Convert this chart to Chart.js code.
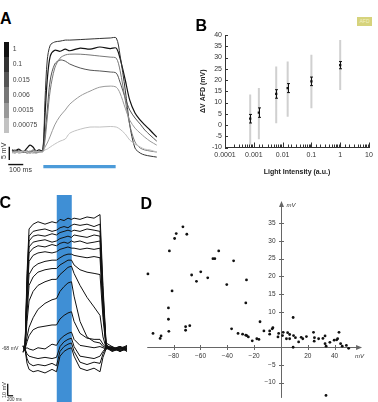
<!doctype html>
<html lang="en">
<head>
	<meta charset="utf-8">
	<title>AFD light responses</title>
	<script src="https://cdn.jsdelivr.net/npm/chart.js@4.4.1/dist/chart.umd.min.js"></script>
	<style>
		body { margin: 0; width: 378px; height: 402px; position: relative; overflow: hidden; background: #fff; font-family: "Liberation Sans", Arial, sans-serif; color: #333; }
		canvas { position: absolute; }
		.txt { position: absolute; white-space: nowrap; line-height: 1; }
		.panel { font-weight: bold; font-size: 16px; color: #000; }
		.rot { transform: rotate(-90deg); transform-origin: left top; }
		.legBlock { position: absolute; left: 4px; width: 5.3px; }
		.legLabel { position: absolute; left: 12.7px; font-size: 6.8px; line-height: 1; color: #444; }
		#afd { position: absolute; left: 357px; top: 17px; width: 15px; height: 9px; background: #d6d37c; color: #f3f1c4; font-size: 5px; line-height: 9px; text-align: center; }
	</style>
</head>

<body>
	<canvas id="chartA" width="162" height="142" style="left:0;top:30px"></canvas>
	<canvas id="chartB" width="188" height="195" style="left:190px;top:0"></canvas>
	<canvas id="chartC" width="140" height="207" style="left:0;top:195px"></canvas>
	<canvas id="chartD" width="238" height="207" style="left:140px;top:195px"></canvas>

	<div class="txt panel" style="left:0;top:11.3px">A</div>
	<div class="txt panel" style="left:195.5px;top:18px">B</div>
	<div class="txt panel" style="left:-0.5px;top:194.7px">C</div>
	<div class="txt panel" style="left:140.5px;top:196.3px">D</div>
	<div id="afd">AFD</div>
	<div id="legendA"></div>

	<div class="txt rot" style="left:-0.5px;top:158.5px;font-size:7px">5 mV</div>
	<div class="txt" style="left:9px;top:166px;font-size:7px">100 ms</div>
	<div class="txt" style="left:1.7px;top:346.4px;font-size:5.2px">-68 mV</div>
	<div class="txt rot" style="left:1.5px;top:398px;font-size:5.5px">10 mV</div>
	<div class="txt" style="left:7px;top:397.8px;font-size:4.5px">200 ms</div>

	<script>
		// ---- panel A: responses to light steps (time in ms, voltage in mV from rest)
		var aIntensities = ['1', '0.1', '0.015', '0.006', '0.0015', '0.00075'];
		var aColors = ['#111111', '#333333', '#555555', '#777777', '#999999', '#c2c2c2'];
		var aTime = [0, 20, 45, 75, 100, 120, 140, 160, 180, 205, 220, 235, 255, 285, 320, 355, 385, 455, 520, 585, 655, 695, 720, 755, 785, 820, 855, 885, 920, 965];
		var aResp1 = [0.8, 0.4, 1.1, 0, 1.5, 2.6, 1.9, 0.4, 0.8, 0.4, 13.9, 27.1, 36.1, 38.3, 37.9, 38.7, 38.1, 39.1, 38.7, 39.5, 38.9, 39.1, 35.3, 27.1, 19.5, 14.7, 12, 10.2, 8.3, 5.6];
		var aResp01 = [0.4, 0, 0.8, 0, 0.4, -0.4, 0.4, 0, 0.4, 0.8, 19.5, 34.6, 40.2, 41.4, 41.7, 42.1, 42.1, 42.3, 42.5, 42.7, 42.9, 42.9, 36.5, 23.3, 10.2, 1.5, -0.4, -1.1, -1.5, -1.9];
		var aResp0015 = [0.4, 0.8, 0, 0.4, -0.4, 0, 0.8, 0.4, 0, 0.4, 6.4, 15.8, 27.1, 33.1, 34.6, 34.2, 33.1, 31.6, 30.8, 30.5, 30.1, 29.7, 26.3, 20.3, 15.8, 12.8, 10.5, 8.3, 6.4, 4.1];
		var aResp0006 = [0, -0.4, 0.4, 0, 0, 0.4, 0, -0.4, 0, 0.4, 4.5, 12.8, 23.3, 31.6, 35.3, 36.5, 36.8, 36.8, 36.5, 36.1, 35.7, 35.3, 30.8, 19.5, 10.2, 3.8, 1.5, 0.8, 0.4, 0];
		var aResp00015 = [0, 0.4, -0.4, 0, 0.4, 0, -0.4, 0, 0.4, 0, 1.9, 3.4, 6, 10.2, 13.5, 15.8, 18, 21.1, 22.9, 24.4, 24.8, 24.4, 22.2, 16.5, 12, 9, 7.1, 5.6, 4.1, 2.6];
		var aResp000075 = [-0.4, 0, 0, 0.4, 0, -0.4, 0, 0.4, 0, 0, 0.8, 1.1, 1.9, 3, 4.1, 4.9, 7.1, 8.6, 9.4, 9.4, 9.6, 9.4, 8.6, 6.8, 4.5, 3, 1.9, 1.1, 0.8, 0];
		var aStim = [209, 691];

		// ---- panel B: light intensity vs depolarisation
		var bIntensity = [0.00075, 0.0015, 0.006, 0.015, 0.1, 1];
		var bMean = [2.8, 5.5, 13.8, 16.4, 19.4, 26.6];
		var bSem = [1.9, 2.1, 1.9, 2.0, 1.9, 1.6];
		var bRangeLow = [-8.8, -6.3, 0.8, 3.7, 7.4, 15.6];
		var bRangeHigh = [13.6, 16.5, 26.0, 28.2, 31.2, 37.8];
		var bTickLabels = ['0.0001', '0.001', '0.01', '0.1', '1', '10'];

		// ---- panel C: current steps (time in ms, membrane potential in mV)
		var cTime = [-70, 0, 75, 150, 300, 480, 740, 1000, 1165, 1295, 1445, 1590, 1720, 1815, 2035, 2295, 2555, 2775, 2885, 3000, 3220, 3515, 3775];
		var cSweep1 = [-66, -68, -5, 32, 36, 38, 36, 38, 37, 40, 39, 41, 40, 41, 40, 42, 41, 44, -15, -63, -66, -70, -67];
		var cSweep2 = [-70, -68, -10, 26, 30, 31, 32, 30, 31, 33, 34, 33, 35, 36, 35, 36, 34, 36, -20, -64, -69, -66, -68];
		var cSweep3 = [-65, -68, -15, 22, 26, 27, 26, 28, 27, 29, 30, 31, 30, 31, 30, 32, 31, 30, -25, -65, -67, -70, -66];
		var cSweep4 = [-71, -68, -18, 17, 21, 22, 23, 21, 22, 24, 25, 26, 25, 27, 26, 25, 27, 26, -28, -65, -70, -67, -69];
		var cSweep5 = [-67, -68, -22, 12, 16, 18, 17, 19, 18, 20, 21, 20, 22, 21, 22, 20, 21, 22, -30, -66, -68, -66, -70];
		var cSweep6 = [-69, -68, -25, 5, 10, 12, 13, 12, 13, 15, 16, 17, 16, 16, 15, 16, 15, 16, -33, -66, -69, -68, -65];
		var cSweep7 = [-66, -68, -30, -6, 0, 3, 5, 6, 6, 8, 10, 11, 11, 10, 9, 8, 9, 8, -36, -66, -67, -70, -68];
		var cSweep8 = [-70, -68, -38, -15, -8, -4, -2, -1, -1, 2, 4, 6, 6, 2, -2, -4, -5, -6, -42, -67, -69, -67, -66];
		var cSweep9 = [-67, -68, -45, -28, -20, -15, -12, -10, -10, -6, -3, 0, 1, -5, -15, -25, -33, -40, -58, -67, -66, -69, -68];
		var cSweep10 = [-69, -68, -58, -50, -42, -35, -30, -27, -26, -20, -16, -13, -12, -24, -45, -58, -62, -63, -66, -67, -70, -68, -67];
		var cSweep11 = [-66, -68, -62, -57, -52, -50, -49, -48, -48, -43, -40, -38, -37, -45, -55, -59, -60, -60, -64, -67, -68, -66, -69];
		var cSweep12 = [-70, -68, -67, -68, -69, -67, -68, -64, -65, -60, -57, -55, -54, -60, -65, -66, -67, -66, -67, -68, -67, -69, -68];
		var cSweep13 = [-67, -68, -72, -74, -75, -76, -75, -76, -75, -66, -62, -60, -59, -66, -74, -75, -76, -74, -70, -67, -68, -67, -70];
		var cSweep14 = [-68, -68, -76, -80, -82, -81, -82, -80, -82, -70, -66, -64, -63, -70, -79, -81, -79, -80, -72, -67, -69, -68, -66];
		var cSweep15 = [-66, -68, -80, -85, -87, -86, -88, -85, -87, -74, -70, -68, -67, -74, -84, -86, -84, -87, -75, -68, -67, -69, -68];
		var cStim = [1175, 1730];

		// ---- panel D: scatter (mV vs mV)
		var dX = [-99.2, -95.4, -90.1, -89.4, -83.6, -83.9, -83.9, -81.2, -83.2, -79.3, -78.1, -73.1, -70.2, -71.1, -71.1, -68.0, -66.6, -63.0, -59.8, -54.6,
			-50.7, -49.3, -46.4, -40.4, -35.3, -25.7, -26.2, -36.8, -32.0, -28.6, -26.2, -25.5, -24.3, -21.4, -18.0, -16.4, -15.6, -12.7, -8.4, -8.4,
			-6.5, -6.0, -2.2, -1.7, 1.2, 1.7, 4.1, 5.0, 6.5, 6.5, 9.1, 9.1, 9.4, 10.8, 13.2, 15.1, 16.3, 19.0, 24.3, 24.8,
			25.0, 28.1, 31.3, 32.9, 32.9, 33.7, 36.5, 39.7, 41.6, 42.3, 43.3, 44.5, 45.7, 48.8, 50.5, 33.6];
		var dY = [20.7, 3.9, 2.5, 3.2, 4.5, 7.9, 11.1, 15.9, 27.2, 30.7, 32.1, 34.0, 31.9, 5.8, 4.8, 6.1, 20.4, 18.6, 21.3, 19.6,
			25.0, 25.0, 27.2, 17.7, 24.4, 19.0, 12.5, 5.2, 3.9, 3.7, 3.4, 3.3, 2.9, 1.8, 2.4, 2.2, 7.2, 4.6, 4.6, 3.7,
			5.2, 5.5, 2.9, 3.9, 3.3, 4.2, 2.4, 4.1, 3.6, 2.4, 8.4, 0.0, 3.3, 2.7, 1.5, 2.8, 2.4, 3.0, 4.2, 1.7,
			2.7, 2.4, 2.5, 3.2, 1.0, 0.3, 1.4, 2.0, 2.1, 2.4, 4.2, 1.0, 0.3, 0.5, -0.3, -13.6];
		var dXTicks = [-80, -60, -40, -20, 20, 40];
		var dXTickLabels = ['\u221280', '\u221260', '\u221240', '\u221220', '20', '40'];
		var dYTicks = [35, 30, 25, 20, 15, 10, -5, -10];
		var dYTickLabels = ['35', '30', '25', '20', '15', '10', '\u22125', '\u221210'];
		var dAxisX = [-99.7, 60.5];
		var dAxisY = [-14.3, 41.3];

		var fontFamily = '"Liberation Sans", Arial, sans-serif';
		Chart.defaults.font.family = fontFamily;
		Chart.defaults.color = '#333';

		function toPoints(xs, ys)
		{
			return xs.map(function(x, i) { return {x: x, y: ys[i]}; });
		}

		function traceSet(data, color, width)
		{
			return {data: data, borderColor: color, borderWidth: width, pointRadius: 0, fill: false};
		}

		function bareOptions(xMin, xMax, yMin, yMax, tension)
		{
			return {
				responsive: false,
				animation: false,
				devicePixelRatio: 1,
				layout: {padding: 0},
				elements: {line: {tension: tension}},
				plugins: {legend: {display: false}, tooltip: {enabled: false}},
				scales: {
					x: {type: 'linear', display: false, min: xMin, max: xMax},
					y: {type: 'linear', display: false, min: yMin, max: yMax}
				}
			};
		}

		// legend for panel A
		var legendA = document.getElementById('legendA');
		aIntensities.forEach(function(label, i)
		{
			var block = document.createElement('div');
			block.className = 'legBlock';
			block.style.top = (41.7 + i * 15.25) + 'px';
			block.style.height = '15.3px';
			block.style.background = aColors[i];
			legendA.appendChild(block);

			var text = document.createElement('div');
			text.className = 'legLabel';
			text.style.top = (41.7 + i * 15.25 + 4.5) + 'px';
			text.textContent = label;
			legendA.appendChild(text);
		});

		// ---- chart A
		var aResponses = [aResp000075, aResp00015, aResp0006, aResp0015, aResp01, aResp1];
		var aDatasets = [];
		aResponses.forEach(function(resp, i)
		{
			aDatasets.push(traceSet(toPoints(aTime, resp), aColors[5 - i], i === 5 ? 1.2 : 1));
		});
		aDatasets.push(traceSet([{x: aStim[0], y: -5.5}, {x: aStim[1], y: -5.5}], '#4c9bd9', 3.2));
		aDatasets.push(traceSet([{x: -18, y: -3}, {x: -18, y: 2}], '#111', 1.4));
		aDatasets.push(traceSet([{x: -25, y: -4.7}, {x: 75, y: -4.7}], '#111', 1.4));

		new Chart(document.getElementById('chartA'), {
			type: 'line',
			data: {datasets: aDatasets},
			options: bareOptions(-80, 1000, -7.5, 45.9, 0.3)
		});

		// ---- chart B
		function isDecade(v)
		{
			var e = Math.log10(v);
			return Math.abs(e - Math.round(e)) < 1e-6;
		}

		var bErrorBars = {
			id: 'bErrorBars',
			beforeDatasetsDraw: function(chart)
			{
				var ctx = chart.ctx, xs = chart.scales.x, ys = chart.scales.y;
				ctx.save();
				ctx.lineWidth = 2;
				ctx.strokeStyle = '#d0d0d0';
				ctx.beginPath();
				bIntensity.forEach(function(v, i)
				{
					var px = xs.getPixelForValue(v);
					ctx.moveTo(px, ys.getPixelForValue(bRangeLow[i]));
					ctx.lineTo(px, ys.getPixelForValue(bRangeHigh[i]));
				});
				ctx.stroke();

				ctx.lineWidth = 1;
				ctx.strokeStyle = '#111';
				ctx.beginPath();
				bIntensity.forEach(function(v, i)
				{
					var px = Math.round(xs.getPixelForValue(v)) + 0.5;
					var lo = ys.getPixelForValue(bMean[i] - bSem[i]);
					var hi = ys.getPixelForValue(bMean[i] + bSem[i]);
					ctx.moveTo(px, lo); ctx.lineTo(px, hi);
					ctx.moveTo(px - 1.5, lo); ctx.lineTo(px + 1.5, lo);
					ctx.moveTo(px - 1.5, hi); ctx.lineTo(px + 1.5, hi);
				});
				ctx.stroke();
				ctx.restore();
			},
			afterDraw: function(chart)
			{
				// tick marks pointing into the plot
				var ctx = chart.ctx, area = chart.chartArea, xs = chart.scales.x, ys = chart.scales.y;
				ctx.save();
				ctx.strokeStyle = '#333';
				ctx.lineWidth = 1;
				ctx.beginPath();
				xs.ticks.forEach(function(t)
				{
					var px = Math.round(xs.getPixelForValue(t.value)) + 0.5;
					ctx.moveTo(px, area.bottom);
					ctx.lineTo(px, area.bottom - (isDecade(t.value) ? 5 : 3));
				});
				ys.ticks.forEach(function(t)
				{
					var py = Math.round(ys.getPixelForValue(t.value)) + 0.5;
					ctx.moveTo(area.left, py);
					ctx.lineTo(area.left + 3, py);
				});
				ctx.stroke();
				ctx.restore();
			}
		};

		new Chart(document.getElementById('chartB'), {
			type: 'scatter',
			data: {
				datasets: [{
					data: toPoints(bIntensity, bMean),
					pointStyle: 'rect',
					pointRadius: 1.6,
					backgroundColor: '#111',
					borderWidth: 0
				}]
			},
			options: {
				responsive: false,
				animation: false,
				devicePixelRatio: 1,
				layout: {padding: {left: 8.8, top: 35, right: 9, bottom: 18.5}},
				plugins: {legend: {display: false}, tooltip: {enabled: false}},
				scales: {
					x: {
						type: 'logarithmic',
						min: 0.0001,
						max: 10,
						grid: {display: false, drawTicks: false},
						border: {display: true, color: '#333', width: 1},
						ticks: {
							autoSkip: false,
							maxRotation: 0,
							padding: 3,
							color: '#333',
							font: {size: 7},
							callback: function(value)
							{
								if (!isDecade(value)) return '';
								return bTickLabels[Math.round(Math.log10(value)) + 4];
							}
						},
						title: {display: true, text: 'Light Intensity (a.u.)', color: '#222', font: {size: 7, weight: 'bold'}, padding: 0},
						afterFit: function(scale) { scale.height = 29; }
					},
					y: {
						min: -10,
						max: 40,
						grid: {display: false, drawTicks: false},
						border: {display: true, color: '#333', width: 1},
						ticks: {stepSize: 5, autoSkip: false, padding: 3, color: '#333', font: {size: 7}},
						title: {display: true, text: '\u0394V AFD (mV)', color: '#222', font: {size: 7, weight: 'bold'}, padding: 0},
						afterFit: function(scale) { scale.width = 26.2; }
					}
				}
			},
			plugins: [bErrorBars]
		});

		// ---- chart C
		var cStimBand = {
			id: 'cStimBand',
			beforeDatasetsDraw: function(chart)
			{
				var area = chart.chartArea, xs = chart.scales.x;
				var l = xs.getPixelForValue(cStim[0]), r = xs.getPixelForValue(cStim[1]);
				chart.ctx.save();
				chart.ctx.fillStyle = '#3f8fd5';
				chart.ctx.fillRect(l, area.top, r - l, area.bottom - area.top);
				chart.ctx.restore();
			}
		};

		var cSweeps = [cSweep1, cSweep2, cSweep3, cSweep4, cSweep5, cSweep6, cSweep7, cSweep8, cSweep9, cSweep10, cSweep11, cSweep12, cSweep13, cSweep14, cSweep15];
		var cDatasets = cSweeps.map(function(sweep) { return traceSet(toPoints(cTime, sweep), '#111', 1); });
		cDatasets.push(traceSet([{x: -640, y: -107}, {x: -640, y: -97}], '#111', 1.3));
		cDatasets.push(traceSet([{x: -640, y: -107}, {x: -440, y: -107}], '#111', 1.3));

		new Chart(document.getElementById('chartC'), {
			type: 'line',
			data: {datasets: cDatasets},
			options: bareOptions(-925, 4255, -112.2, 60.3, 0),
			plugins: [cStimBand]
		});

		// ---- chart D
		var dAxes = {
			id: 'dAxes',
			beforeDatasetsDraw: function(chart)
			{
				var ctx = chart.ctx, xs = chart.scales.x, ys = chart.scales.y;
				var x0 = Math.round(xs.getPixelForValue(0)) + 0.5;
				var y0 = Math.round(ys.getPixelForValue(0)) + 0.5;
				var xl = xs.getPixelForValue(dAxisX[0]), xr = xs.getPixelForValue(dAxisX[1]);
				var yb = ys.getPixelForValue(dAxisY[0]), yt = ys.getPixelForValue(dAxisY[1]);
				ctx.save();
				ctx.strokeStyle = '#666';
				ctx.fillStyle = '#666';
				ctx.lineWidth = 1;
				ctx.beginPath();
				ctx.moveTo(xl, y0); ctx.lineTo(xr - 4, y0);
				ctx.moveTo(x0, yb); ctx.lineTo(x0, yt + 4);
				dXTicks.forEach(function(v)
				{
					var p = Math.round(xs.getPixelForValue(v)) + 0.5;
					ctx.moveTo(p, y0 - 2.5); ctx.lineTo(p, y0 + 2.5);
				});
				dYTicks.forEach(function(v)
				{
					var p = Math.round(ys.getPixelForValue(v)) + 0.5;
					ctx.moveTo(x0 - 2.5, p); ctx.lineTo(x0 + 2.5, p);
				});
				ctx.stroke();

				ctx.beginPath();
				ctx.moveTo(xr, y0); ctx.lineTo(xr - 6, y0 - 2.5); ctx.lineTo(xr - 6, y0 + 2.5);
				ctx.closePath();
				ctx.fill();
				ctx.beginPath();
				ctx.moveTo(x0, yt); ctx.lineTo(x0 - 2.5, yt + 6); ctx.lineTo(x0 + 2.5, yt + 6);
				ctx.closePath();
				ctx.fill();

				ctx.fillStyle = '#333';
				ctx.font = '6.5px ' + fontFamily;
				ctx.textAlign = 'center';
				ctx.textBaseline = 'middle';
				dXTicks.forEach(function(v, i) { ctx.fillText(dXTickLabels[i], xs.getPixelForValue(v), y0 + 9); });
				ctx.textAlign = 'right';
				dYTicks.forEach(function(v, i) { ctx.fillText(dYTickLabels[i], x0 - 6, ys.getPixelForValue(v)); });

				ctx.textAlign = 'left';
				ctx.font = 'italic 6px ' + fontFamily;
				ctx.fillText('mV', x0 + 5, yt + 4);
				ctx.fillText('mV', xr - 7, y0 + 9);
				ctx.restore();
			}
		};

		var dOptions = bareOptions(-102.13, 69.41, -14.33, 41.85, 0);
		new Chart(document.getElementById('chartD'), {
			type: 'scatter',
			data: {
				datasets: [{
					data: toPoints(dX, dY),
					pointRadius: 1.4,
					backgroundColor: '#111',
					borderWidth: 0
				}]
			},
			options: dOptions,
			plugins: [dAxes]
		});
	</script>
</body>
</html>
